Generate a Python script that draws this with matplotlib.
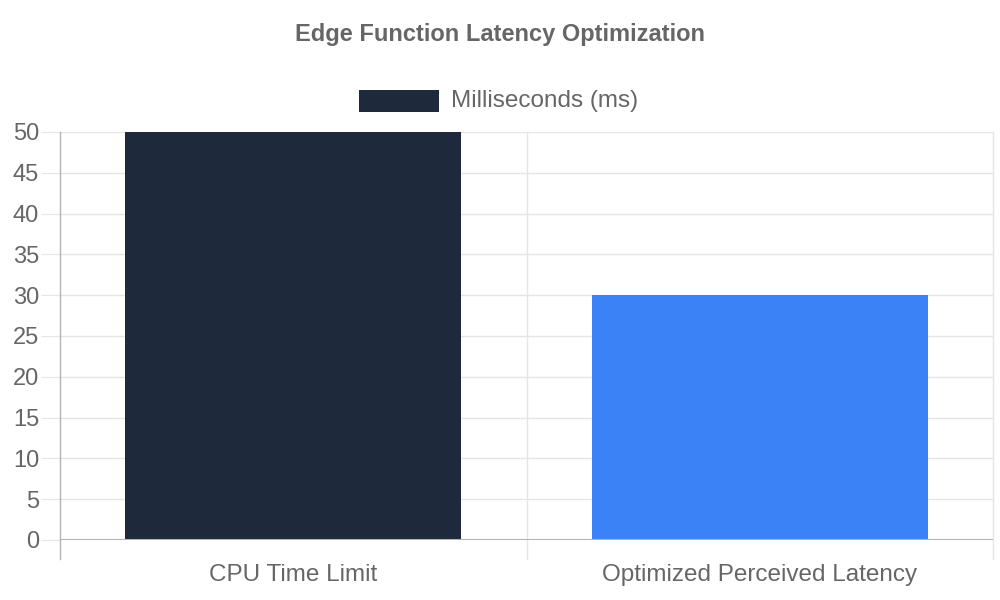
import matplotlib.pyplot as plt
from matplotlib.patches import Rectangle

plt.rcParams['font.family'] = ['Liberation Sans', 'DejaVu Sans']

# chart data
categories = ['CPU Time Limit', 'Optimized Perceived Latency']
values = [50, 30]
bar_colors = ['#1e293b', '#3b82f6']
series_name = 'Milliseconds (ms)'
title = 'Edge Function Latency Optimization'

text_color = '#666666'
grid_color = '#e5e5e5'
axis_color = '#b3b3b3'

fig = plt.figure(figsize=(10, 6), dpi=100)
ax = fig.add_axes([0.06, 0.1, 0.933, 0.68])

x = list(range(len(categories)))
ax.bar(x, values, width=0.72, color=bar_colors, zorder=3)

ax.set_xlim(-0.5, len(categories) - 0.5)
ax.set_ylim(0, 50)
ax.set_yticks(range(0, 51, 5))
ax.set_xticks(x)
ax.set_xticklabels(categories)

# grid lines like chart.js: horizontal at ticks, vertical at category edges
for yv in range(5, 51, 5):
    ax.axhline(yv, color=grid_color, linewidth=1, zorder=1)
edges = [-0.5 + i for i in range(len(categories) + 1)]
for i, xv in enumerate(edges):
    c = axis_color if i == 0 else grid_color
    ax.plot([xv, xv], [-2.3, 50], color=c, linewidth=1, zorder=4 if i == 0 else 1, clip_on=False)
ax.axhline(0, color=axis_color, linewidth=1.5, zorder=4)

for s in ax.spines.values():
    s.set_visible(False)

ax.tick_params(axis='y', length=14, color=grid_color, labelcolor=text_color, labelsize=17, pad=1)
ax.tick_params(axis='x', length=0, labelcolor=text_color, labelsize=17.5, pad=17.5)

# title and legend
fig.text(0.5, 0.943, title, ha='center', va='center', fontsize=17, fontweight='bold', color=text_color)
fig.patches.append(Rectangle((0.359, 0.813), 0.08, 0.037, transform=fig.transFigure,
                             facecolor=bar_colors[0], edgecolor='none'))
fig.text(0.451, 0.831, series_name, ha='left', va='center', fontsize=17.5, color=text_color)

fig.savefig('out.png', dpi=100)
